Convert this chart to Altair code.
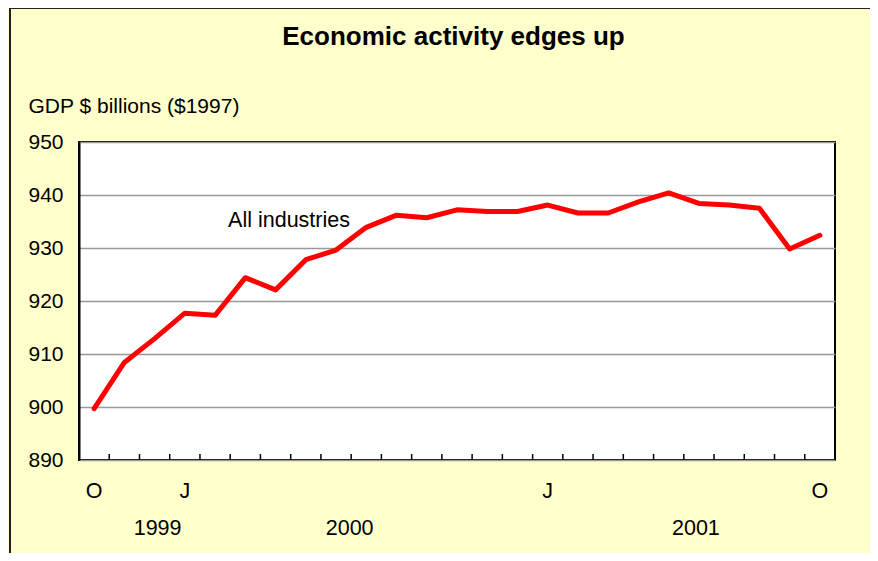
import altair as alt
import pandas as pd

# ---- data ----
month_labels = ["O", "N", "D", "J", "F", "M", "A", "M", "J", "J", "A", "S",
                "O", "N", "D", "J", "F", "M", "A", "M", "J", "J", "A", "S", "O"]
gdp = [899.7, 908.4, 912.9, 917.7, 917.3, 924.4, 922.1, 927.8, 929.6, 933.9,
       936.2, 935.7, 937.2, 936.9, 936.9, 938.1, 936.6, 936.6, 938.7, 940.4,
       938.4, 938.1, 937.5, 929.8, 932.4]
shown_month_idx = [0, 3, 15, 24]
year_labels = ["1999", "2000", "2001"]
year_pos = [2.1, 8.45, 19.9]
series_label = "All industries"
series_label_pos = (4.43, 934.0)
y_ticks = [890, 900, 910, 920, 930, 940, 950]

FONT = "Liberation Sans"
n = len(gdp)
xscale = alt.Scale(domain=[-0.5, n - 0.5], nice=False, zero=False)
yscale = alt.Scale(domain=[890, 950], nice=False, zero=False)

df = pd.DataFrame({"i": list(range(n)), "gdp": gdp, "m": month_labels})
ticks_df = pd.DataFrame({"b": [k + 0.5 for k in range(n - 1)]})
mlab_df = pd.DataFrame({"i": shown_month_idx, "m": [month_labels[k] for k in shown_month_idx]})
year_df = pd.DataFrame({"p": year_pos, "y": year_labels})
ann_df = pd.DataFrame({"x": [series_label_pos[0]], "v": [series_label_pos[1]], "t": [series_label]})

line = alt.Chart(df).mark_line(color="#FF0000", strokeWidth=5, strokeJoin="round", strokeCap="round").encode(
    x=alt.X("i:Q", scale=xscale, axis=None),
    y=alt.Y("gdp:Q", scale=yscale, axis=alt.Axis(
        values=y_ticks, title="GDP $ billions ($1997)", titleAngle=0, titleAlign="left",
        titleBaseline="alphabetic", titleX=-51, titleY=-30, titleFont=FONT, titleFontSize=21,
        titleFontWeight="normal", titleColor="black",
        labelFont=FONT, labelFontSize=21, labelColor="black", labelPadding=16,
        ticks=False, domainColor="black", domainWidth=2,
        grid=True, gridColor="#999999", gridWidth=1.5)),
)

xticks = alt.Chart(ticks_df).mark_rule(color="black", strokeWidth=1.5).encode(
    x=alt.X("b:Q", scale=xscale), y=alt.value(318), y2=alt.value(312))

mlabels = alt.Chart(mlab_df).mark_text(font=FONT, fontSize=21.5, color="black", baseline="alphabetic").encode(
    x=alt.X("i:Q", scale=xscale), y=alt.value(356), text="m:N")

ylabels = alt.Chart(year_df).mark_text(font=FONT, fontSize=21.5, color="black", baseline="alphabetic").encode(
    x=alt.X("p:Q", scale=xscale), y=alt.value(393), text="y:N")

ann = alt.Chart(ann_df).mark_text(font=FONT, fontSize=21.5, color="black", align="left", baseline="alphabetic").encode(
    x=alt.X("x:Q", scale=xscale), y=alt.Y("v:Q", scale=yscale), text="t:N")

title = alt.Chart(pd.DataFrame({"t": ["Economic activity edges up"]})).mark_text(
    font=FONT, fontSize=26, fontWeight="bold", color="black", align="center", baseline="alphabetic").encode(
    x=alt.value(374.5), y=alt.value(-97), text="t:N")

frame_top = alt.Chart(pd.DataFrame({"a": [0]})).mark_rule(color="#222222", strokeWidth=2).encode(
    x=alt.value(-69), x2=alt.value(800), y=alt.value(-134))
frame_left = alt.Chart(pd.DataFrame({"a": [0]})).mark_rule(color="#222222", strokeWidth=2).encode(
    x=alt.value(-69), y=alt.value(-134), y2=alt.value(420))

chart = alt.layer(line, xticks, mlabels, ylabels, ann, title, frame_top, frame_left).properties(
    width=756, height=318, background="#FFFFCC",
    autosize=alt.AutoSizeParams(type="none"),
    padding={"left": 71, "top": 134, "right": 35, "bottom": 93},
).configure_view(stroke="black", strokeWidth=2, fill="white")

chart.save("out.html", embed_options={"renderer": "svg", "actions": False})
